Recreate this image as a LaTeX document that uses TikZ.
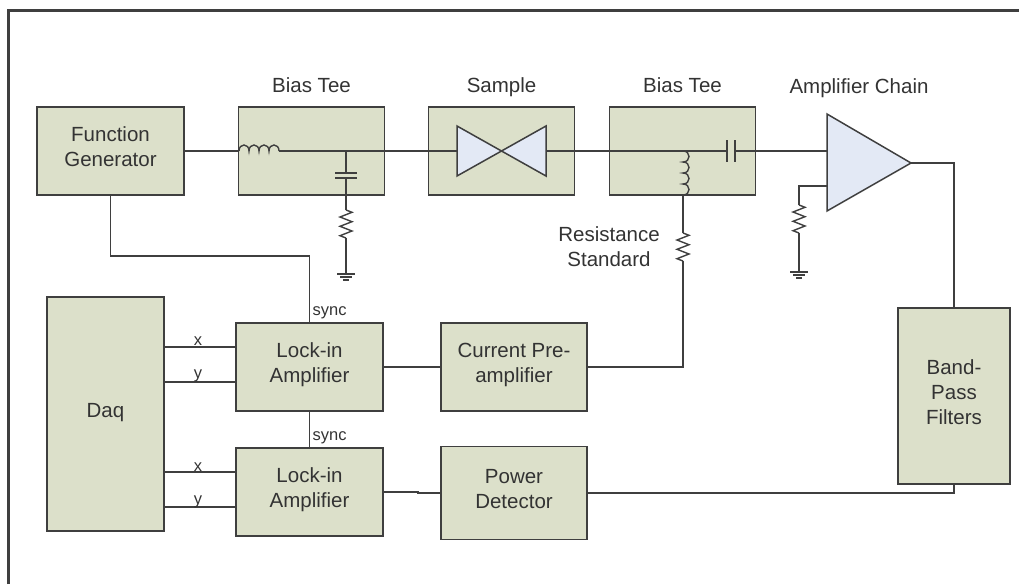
\documentclass[tikz,border=0pt]{standalone}
\usepackage{fontspec}
\setmainfont{Liberation Sans}
\usepackage{xcolor}
\usepackage{tikz}
\usetikzlibrary{positioning, calc}
\definecolor{boxfill}{HTML}{DCE0CA}
\definecolor{devfill}{HTML}{E3E9F5}
\definecolor{inkline}{HTML}{3F3F3F}
\definecolor{inktext}{HTML}{333333}
\newcommand{\lift}{\\[-17pt]\mbox{}}
\tikzset{
  blk/.style={rectangle, draw=inkline, align=center, fill=boxfill, line width=1.5pt,
              minimum width=146pt, minimum height=88pt, inner sep=0pt, outer sep=0pt,
              text=inktext, font=\fontsize{20.5}{25}\selectfont},
  device/.style={draw=inkline, fill=devfill, line width=1.5pt, line join=miter},
  wire/.style={draw=inkline, line width=1.7pt},
  title/.style={inner sep=0pt, text=inktext, align=center, font=\fontsize{20.5}{25}\selectfont},
  head/.style={title, text height=15pt, text depth=5pt},
  tag/.style={inner sep=0pt, text=inktext, font=\fontsize{16.5}{20}\selectfont},
  resistor/.pic={\draw[wire, line width=1.4pt] (0,0) -- (6,2.3) -- (-6,7) -- (6,11.7) -- (-6,16.3) -- (6,21) -- (-6,25.7) -- (0,28);},
  inductor/.pic={\draw[wire, line width=1.4pt] (0,0)
      .. controls (0,-8) and (10,-8) .. (10,0)
      .. controls (10,-8) and (20,-8) .. (20,0)
      .. controls (20,-8) and (30,-8) .. (30,0)
      .. controls (30,-8) and (40,-8) .. (40,0);},
  ground/.pic={\draw[wire] (-9,0) -- (9,0) (-6,3) -- (6,3) (-3,6) -- (3,6);},
}
\begin{document}
\begin{tikzpicture}[x=1pt, y=-1pt]
  \useasboundingbox (0,0) rectangle (1019,584);
  \draw[draw=inkline, line width=2.2pt] (8.5,584) -- (8.5,10.5) -- (1019,10.5);

  \node[blk, minimum width=147pt] at (110.5,151) (fg) {Function\\Generator\lift};
  \node[blk, right=54.5pt of fg] (tee1) {};
  \node[blk, right=44pt of tee1] (smp) {};
  \node[blk, right=35pt of smp] (tee2) {};
  \node[head, above=9pt of tee1] (tee1t) {Bias Tee};
  \node[head, above=9pt of smp] (smpt) {Sample};
  \node[head, above=9pt of tee2] (tee2t) {Bias Tee};
  \node[head] at (859,88) (ampt) {Amplifier Chain};

  \node[blk, minimum width=117pt, minimum height=234pt] at (105.5,414) (daq) {Daq\lift};
  \node[blk, minimum width=147pt] at (309.5,367) (lia1) {Lock-in\\Amplifier\lift};
  \node[blk, minimum width=147pt, below=37pt of lia1] (lia2) {Lock-in\\Amplifier\lift};
  \node[blk, right=58pt of lia1] (cpa) {Current Pre-\\amplifier\lift};
  \node[blk, minimum height=93pt, right=58pt of lia2, yshift=-1pt] (pd) {Power\\Detector\lift};
  \node[blk, minimum width=112pt, minimum height=176pt] at (954,396) (bpf) {Band-\\Pass\\Filters\lift};

  \coordinate (la) at (239,151);
  \coordinate (lb) at (279,151);
  \coordinate (sl) at (457,151);
  \coordinate (sr) at (546,151);
  \coordinate (sc) at (501.5,151);
  \coordinate (cj) at (346,151);
  \coordinate (ca) at (346,173);
  \coordinate (cb) at (346,178);
  \coordinate (ra) at (346,210);
  \coordinate (rb) at (346,238);
  \coordinate (gn) at (346,274);

  \draw[wire] (fg.east) -- (la);
  \draw[wire] (lb) -- (sl);
  \pic at (la) {inductor};
  \draw[wire] (cj) -- (ca) (cb) -- (ra) (rb) -- (gn);
  \draw[wire] ([xshift=-11pt]ca) -- ([xshift=11pt]ca) ([xshift=-11pt]cb) -- ([xshift=11pt]cb);
  \pic at (ra) {resistor};
  \pic at (gn) {ground};

  \draw[device] (sc) -- ($(sl)+(0,-25)$) -- ($(sl)+(0,25)$) -- cycle;
  \draw[device] (sc) -- ($(sr)+(0,-25)$) -- ($(sr)+(0,25)$) -- cycle;

  \coordinate (lj) at (683,151);
  \coordinate (lk) at (683,195);
  \coordinate (sa) at (683,233);
  \coordinate (sb) at (683,261);
  \coordinate (pa) at (727,151);
  \coordinate (pb) at (735,151);
  \coordinate (ai) at (827,151);
  \coordinate (at) at (827,114);
  \coordinate (ab) at (827,211);
  \coordinate (ao) at (911,163);
  \coordinate (af) at (827,186);
  \coordinate (fb) at (799,186);
  \coordinate (fa) at (799,205);
  \coordinate (fc) at (799,233);
  \coordinate (fd) at (799,272);

  \draw[wire] (sr) -- (pa);
  \draw[wire] (pb) -- (ai);
  \draw[wire] ([yshift=11pt]pa) -- ([yshift=-11pt]pa) ([yshift=11pt]pb) -- ([yshift=-11pt]pb);
  \pic[rotate=-90, xscale=1.1] at (lj) {inductor};
  \draw[wire] (lk) -- (sa);
  \pic at (sa) {resistor};
  \draw[wire] (sb) |- (cpa.east);
  \node[title] at (609,247) (rstd) {Resistance\\Standard};

  \draw[device] (at) -- (ao) -- (ab) -- cycle;
  \draw[wire] (af) -- (fb) -- (fa) (fc) -- (fd);
  \pic at (fa) {resistor};
  \pic at (fd) {ground};
  \draw[wire] (ao) -| (bpf.north);

  \coordinate (fgm) at ($(lia1.north)+(0,-67)$);
  \draw[wire] (fg.south) |- (fgm) -- (lia1.north);
  \draw[wire] (lia1.south) -- (lia2.north);
  \node[tag, anchor=base west] at ($(lia1.north)+(3,-8)$) (sync1) {sync};
  \node[tag, anchor=base west] at ($(lia2.north)+(3,-8)$) (sync2) {sync};

  \coordinate (ax) at ($(lia1.west)+(0,-20)$);
  \coordinate (ay) at ($(lia1.west)+(0,15)$);
  \coordinate (bx) at ($(lia2.west)+(0,-20)$);
  \coordinate (by) at ($(lia2.west)+(0,15)$);
  \draw[wire] (daq.east |- ax) -- (ax);
  \draw[wire] (daq.east |- ay) -- (ay);
  \draw[wire] (daq.east |- bx) -- (bx);
  \draw[wire] (daq.east |- by) -- (by);
  \node[tag, anchor=base] at (198,345) (xa) {x};
  \node[tag, anchor=base] at (198,378) (ya) {y};
  \node[tag, anchor=base] at (198,471) (xb) {x};
  \node[tag, anchor=base] at (198,504) (yb) {y};

  \draw[wire] (lia1.east) -- (cpa.west);
  \draw[wire] (lia2.east) -- ++(35,0) |- (pd.west);
  \draw[wire] (pd.east) -| (bpf.south);
\end{tikzpicture}
\end{document}
